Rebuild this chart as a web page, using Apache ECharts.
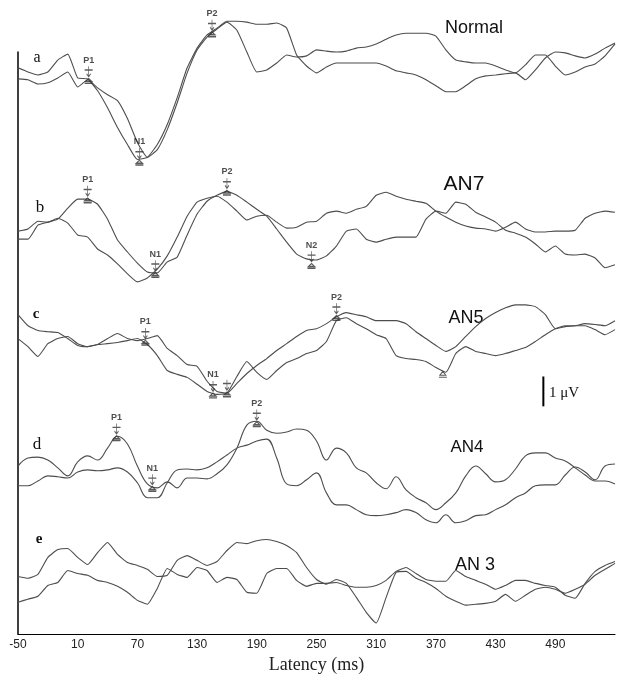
<!DOCTYPE html>
<html>
<head>
<meta charset="utf-8">
<title>Latency</title>
<script src="https://cdn.jsdelivr.net/npm/echarts@6/dist/echarts.min.js"></script>
<style>
    html, body { margin: 0; padding: 0; background: #fff; }
    #chart { width: 621px; height: 679px; }
</style>
</head>
<body>
<div id="chart"></div>
<script>
// time axis (ms), one sample every 10 ms
var latency = [-50, -40, -30, -20, -10, 0, 10, 20, 30, 40,
    50, 60, 70, 80, 90, 100, 110, 120, 130, 140,
    150, 160, 170, 180, 190, 200, 210, 220, 230, 240,
    250, 260, 270, 280, 290, 300, 310, 320, 330, 340,
    350, 360, 370, 380, 390, 400, 410, 420, 430, 440,
    450, 460, 470, 480, 490, 500, 510, 520, 530, 540, 550];
var tickLabels = ["-50", "10", "70", "130", "190", "250", "310", "370", "430", "490"];

// amplitudes in µV, relative to each panel's baseline
// a - Normal
var normal1 = [0.47, 0.33, 0.23, 0.33, 0.73, 0.93, 0.13, 0.1, -0.3, -0.87,
    -1.53, -2.1, -2.6, -2.53, -2.1, -1.43, -0.53, 0.47, 1.13, 1.57,
    1.8, 2.03, 2.03, 2.0, 1.93, 1.93, 1.97, 1.8, 0.9, 0.53,
    0.3, 0.5, 0.63, 0.63, 0.63, 0.63, 0.63, 0.53, 0.37, 0.3,
    0.23, 0.07, -0.13, -0.33, -0.33, -0.13, 0.1, 0.2, 0.23, 0.27,
    0.3, 0.07, 0.4, 0.8, 1.0, 0.97, 0.87, 0.8, 0.93, 1.13, 1.3];
var normal2 = [0.1, 0.07, -0.07, -0.03, 0.13, 0.33, -0.17, 0.07, -0.2, -0.43,
    -0.63, -1.23, -2.03, -2.53, -2.27, -1.6, -0.7, 0.3, 1.07, 1.5,
    1.77, 2.0, 1.73, 1.0, 0.33, 0.4, 0.63, 0.9, 0.83, 0.87,
    1.07, 1.03, 1.0, 1.03, 1.13, 1.17, 1.27, 1.43, 1.57, 1.63,
    1.63, 1.63, 1.53, 1.07, 0.73, 0.67, 0.63, 0.63, 0.53, 0.4,
    0.3, 0.57, 0.9, 0.9, 0.53, 0.23, 0.33, 0.5, 0.6, 0.87, 1.27];
// b - AN7
var an7_1 = [-0.27, -0.27, 0.2, 0.3, 0.4, 0.77, 1.07, 1.07, 0.9, 0.4,
    -0.3, -0.7, -1.07, -1.37, -1.4, -1.03, -0.87, -0.13, 0.57, 1.0,
    1.2, 1.33, 1.2, 0.97, 0.73, 0.5, 0.07, -0.37, -0.77, -0.93,
    -0.97, -0.83, -0.5, 0, 0.07, -0.27, -0.37, -0.27, -0.2, -0.2,
    -0.2, 0.4, 0.67, 0.6, 0.97, 0.9, 0.63, 0.47, 0.3, 0.03,
    -0.07, -0.2, -0.43, -0.7, -0.5, -0.77, -0.8, -0.77, -0.9, -1.23, -1.13];
var an7_2 = [0, 0.07, 0.33, 0.3, 0.43, 0.27, -0.13, -0.2, -0.6, -0.8,
    -1.1, -1.43, -1.7, -1.57, -1.27, -0.83, -0.2, 0.5, 0.97, 1.1,
    1.17, 0.97, 0.67, 0.37, 0.5, 0.53, 0.3, 0.1, 0.13, 0.3,
    0.33, 0.6, 0.67, 0.6, 0.73, 0.83, 1.2, 1.3, 1.17, 1.07,
    1.0, 0.93, 0.67, 0.47, 0.3, 0.17, 0.1, 0.07, 0, 0.13,
    0.3, 0.07, -0.03, -0.03, 0, 0, 0.03, 0.43, 0.6, 0.67, 0.63];
// c - AN5
var an5_1 = [0.7, 0.33, 0.17, 0.13, 0.1, -0.1, -0.33, -0.37, -0.3, -0.27,
    -0.23, -0.17, -0.1, -0.3, -0.67, -1.17, -1.3, -1.4, -1.63, -1.87,
    -1.97, -1.93, -1.37, -0.87, -1.23, -1.47, -1.17, -0.9, -0.77, -0.6,
    -0.5, -0.2, 0.5, 0.6, 0.4, 0.23, 0.03, -0.1, -0.67, -0.77,
    -0.8, -0.87, -1.07, -1.23, -0.6, -0.37, -0.53, -0.6, -0.67, -0.6,
    -0.5, -0.4, -0.2, 0.03, 0.23, 0.33, 0.33, 0.33, 0.2, 0.03, 0.2];
var an5_2 = [-0.1, -0.37, -0.7, -0.27, -0.1, -0.03, -0.27, -0.37, -0.3, -0.1,
    0.07, -0.1, -0.17, -0.1, 0, -0.43, -0.67, -0.97, -1.03, -1.53,
    -1.87, -1.93, -1.6, -1.27, -1.0, -0.77, -0.5, -0.27, -0.03, 0.17,
    0.23, 0.4, 0.63, 0.77, 0.7, 0.63, 0.5, 0.5, 0.5, 0.4,
    0.13, -0.1, -0.33, -0.53, -0.37, -0.03, 0.3, 0.57, 0.77, 0.93,
    1.03, 1.03, 0.97, 0.7, 0.23, 0.3, 0.33, 0.4, 0.37, 0.33, 0.5];
// d - AN4
var an4_1 = [0.13, 0.4, 0.43, 0.33, 0.07, -0.2, 0.27, 0.47, 0.33, 0.73,
    1.13, 0.87, 0.13, -0.47, -0.6, -0.4, -0.6, -0.27, -0.27, -0.3,
    -0.13, 0.17, 0.73, 1.5, 1.63, 1.33, 1.23, 1.27, 1.37, 1.33,
    0.97, 0.33, 0.73, 0.57, 0.07, -0.1, -0.43, -0.63, -0.23, -0.67,
    -0.93, -1.1, -1.33, -1.1, -0.77, -0.2, 0.13, -0.13, -0.4, -0.33,
    0.03, 0.47, 0.57, 0.57, 0.4, 0.3, 0.07, -0.17, -0.37, -0.37, -0.47];
var an4_2 = [-0.53, -0.53, -0.37, -0.2, -0.23, -0.27, -0.07, 0, -0.03, 0,
    0.07, -0.07, -0.43, -0.93, -0.93, -0.43, 0, 0.03, 0, 0.07,
    0.27, 0.5, 0.73, 0.83, 0.97, 1.03, 0.4, -0.47, -0.53, -0.33,
    -0.1, -0.77, -1.17, -1.17, -1.33, -1.5, -1.53, -1.5, -1.43, -1.33,
    -1.43, -1.67, -1.77, -1.5, -1.77, -1.7, -1.53, -1.5, -1.33, -1.17,
    -0.93, -0.77, -0.53, -0.5, -0.5, -0.17, 0.1, -0.07, -0.33, 0.13, 0.2];
// e - AN 3
var an3_1 = [-0.07, -0.13, 0, 0.57, 0.83, 0.87, 0.57, 0.33, 0.73, 1.07,
    0.67, 0.4, 0.3, 0.17, -0.07, -0.03, 0.47, 0.63, 0.47, 0.3,
    0.43, 0.8, 1.07, 1.03, 1.13, 1.17, 1.1, 0.97, 0.73, 0.23,
    -0.17, -0.33, -0.17, -0.3, -0.77, -1.27, -1.63, -0.77, 0.07, 0.1,
    -0.13, -0.27, -0.47, -0.73, -0.9, -1.03, -1.0, -0.97, -0.9, -0.67,
    -0.9, -0.7, -0.5, -0.43, -0.5, -0.63, -0.5, -0.33, -0.03, 0.17, 0.37];
var an3_2 = [-0.93, -0.83, -0.73, -0.37, -0.27, 0.13, 0.03, -0.03, -0.2, -0.27,
    -0.4, -0.6, -0.87, -1.0, -0.47, 0.2, 0, -0.1, 0.23, 0.13,
    -0.27, -0.1, -0.17, -0.6, -0.63, 0.03, 0.2, 0.2, -0.2, -0.4,
    -0.3, -0.3, -0.27, -0.37, -0.43, -0.43, -0.37, -0.2, 0.1, 0.23,
    0.03, -0.17, -0.23, -0.23, 0.13, -0.07, -0.2, -0.33, -0.5, -0.37,
    -0.2, -0.2, -0.3, -0.37, -0.43, -0.7, -0.8, -0.3, 0.1, 0.3, 0.43];

// baseline of each panel on the common µV axis (a..e)
var panelOffset = [18.5, 13.5, 10, 5.5, 2];
var panelTraces = [[normal1, normal2], [an7_1, an7_2], [an5_1, an5_2], [an4_1, an4_2], [an3_1, an3_2]];

// peak picks: name, latency ms, amplitude µV, panel
var peakNames = ["P1", "N1", "P2", "P1", "N1", "P2", "N2", "P1", "N1", "", "P2", "P1", "N1", "P2"];
var peakLatency = [21, 72, 145, 20, 88, 160, 245, 78, 146, 160, 270, 49, 85, 190];
var peakAmp = [0.07, -2.67, 1.63, 1.07, -1.43, 1.33, -1.13, -0.2, -1.97, -1.93, 0.63, 1.1, -0.6, 1.57];
var peakPanel = [0, 0, 0, 1, 1, 1, 1, 2, 2, 2, 2, 3, 3, 3];
// bare trough mark in AN5
var troughLatency = [377];
var troughAmp = [-1.23];
var troughPanel = [2];

// 1 µV calibration bar
var barLatency = 478;
var barBottom = 7.63;

var arrowSymbol = 'path://M5 0L5 10M1 4L9 4M3 8L5 11L7 8M2 16L5 13L8 16ZM1 18L9 18';
var triSymbol = 'path://M2 4L5 0L8 4ZM1 6L9 6';

var chart = echarts.init(document.getElementById('chart'));

var series = [];
function each(arr, fn) { for (var i = 0; i < arr.length; i++) fn(i, arr[i]); }

each(panelTraces, function (p, pair) {
    each(pair, function (j, values) {
        var data = [];
        for (var i = 0; i < latency.length; i++) {
            data.push([latency[i], values[i] + panelOffset[p]]);
        }
        series.push({
            type: 'line',
            data: data,
            symbol: 'none',
            smooth: p === 3 ? 0.4 : 0.15,
            clip: false,
            silent: true,
            lineStyle: {color: '#4d4d4d', width: 1.1}
        });
    });
});

// peak markers
var peakData = [];
for (var k = 0; k < peakNames.length; k++) {
    peakData.push({
        name: peakNames[k],
        value: [peakLatency[k], peakAmp[k] + panelOffset[peakPanel[k]]]
    });
}
series.push({
    type: 'scatter',
    data: peakData,
    symbol: arrowSymbol,
    symbolSize: [8, 17],
    symbolOffset: [0, -5],
    clip: false,
    silent: true,
    z: 5,
    itemStyle: {color: 'rgba(0,0,0,0)', borderColor: '#333', borderWidth: 1},
    label: {
        show: true,
        position: 'top',
        distance: 1,
        formatter: '{b}',
        fontFamily: 'Liberation Sans',
        fontWeight: 'bold',
        fontSize: 9,
        color: '#222'
    }
});

var troughData = [];
for (var m = 0; m < troughLatency.length; m++) {
    troughData.push([troughLatency[m], troughAmp[m] + panelOffset[troughPanel[m]]]);
}
series.push({
    type: 'scatter',
    data: troughData,
    symbol: triSymbol,
    symbolSize: [8, 6],
    symbolOffset: [0, 2],
    clip: false,
    silent: true,
    itemStyle: {color: 'rgba(0,0,0,0)', borderColor: '#333', borderWidth: 1}
});

// calibration bar
series.push({
    type: 'line',
    data: [[barLatency, barBottom], [barLatency, barBottom + 1]],
    symbol: 'none',
    silent: true,
    lineStyle: {color: '#000', width: 2}
});

var titleFont = '"Liberation Sans", Arial, sans-serif';
var serifFont = '"Liberation Serif", "Times New Roman", serif';

function txt(text, x, y, font, align) {
    return {
        type: 'text',
        silent: true,
        style: {
            text: text, x: x, y: y, font: font, fill: '#111',
            align: align || 'center', verticalAlign: 'middle'
        }
    };
}

var option = {
    animation: false,
    backgroundColor: '#fff',
    grid: {left: 18, right: 6, top: 52, bottom: 42},
    xAxis: {
        type: 'value',
        min: -50,
        max: 550,
        interval: 60,
        splitLine: {show: false},
        axisTick: {show: false},
        axisLine: {onZero: false, lineStyle: {color: '#000', width: 1.2}},
        axisLabel: {
            margin: 5,
            fontSize: 12,
            fontFamily: 'Liberation Sans',
            color: '#222',
            formatter: function (v) {
                var s = String(v);
                return tickLabels.indexOf(s) >= 0 ? s : '';
            }
        },
        name: 'Latency (ms)',
        nameLocation: 'middle',
        nameGap: 21,
        nameTextStyle: {fontFamily: 'Liberation Serif', fontSize: 18, color: '#222'}
    },
    yAxis: {
        type: 'value',
        min: 0,
        max: 19.5,
        splitLine: {show: false},
        axisTick: {show: false},
        axisLabel: {show: false},
        axisLine: {show: true, onZero: false, lineStyle: {color: '#000', width: 1.5}}
    },
    graphic: [
        txt('Normal', 474, 28, '18px ' + titleFont),
        txt('AN7', 464, 184, '21px ' + titleFont),
        txt('AN5', 466, 318, '18px ' + titleFont),
        txt('AN4', 467, 447, '17px ' + titleFont),
        txt('AN 3', 475, 565, '18px ' + titleFont),
        txt('a', 37, 58, '16px ' + serifFont),
        txt('b', 40, 208, '17px ' + serifFont),
        txt('c', 36, 314, 'bold 15px ' + serifFont),
        txt('d', 37, 445, '17px ' + serifFont),
        txt('e', 39, 539, 'bold 15px ' + serifFont),
        txt('1 \u03bcV', 549, 393, '15px ' + serifFont, 'left')
    ],
    series: series
};

chart.setOption(option);
</script>
</body>
</html>
